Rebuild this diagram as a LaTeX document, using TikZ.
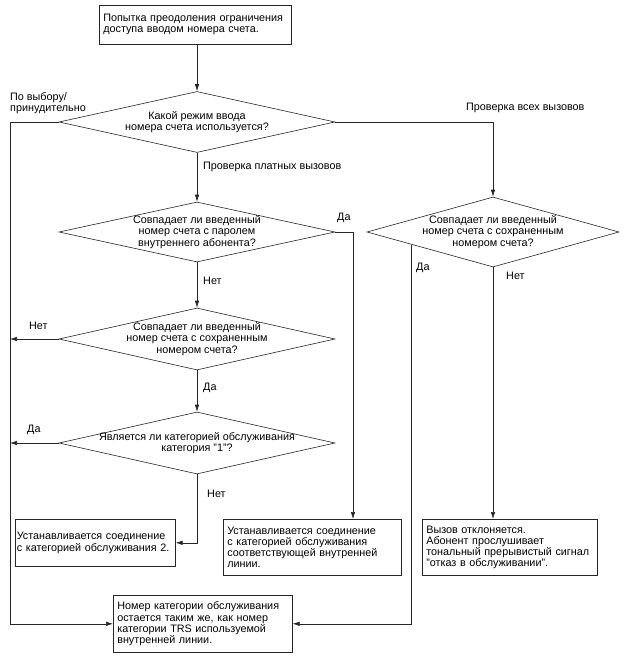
\documentclass[tikz,border=0pt]{standalone}
\usepackage{fontspec}
\setmainfont{Liberation Sans}
\usetikzlibrary{shapes.geometric,arrows.meta,calc}
\begin{document}
\begin{tikzpicture}[x=1pt,y=-1pt,
  font=\fontsize{10.8}{11.2}\selectfont,
  line/.style={draw=black!85,line width=0.6pt},
  flow/.style={line,-{Latex[length=7pt,width=4.5pt]}},
  box/.style={draw=black!85,line width=0.6pt,anchor=north west,align=left,
    inner xsep=4pt,inner ysep=0pt},
  choice/.style={draw=black!85,line width=0.6pt,diamond,aspect=4.2,
    inner xsep=-14pt,inner ysep=0pt,align=center},
  lbl/.style={inner sep=0pt,align=left}]
\useasboundingbox (0,0) rectangle (625,663);

\node[box,text width=184pt,minimum height=39pt] (start) at (99,5)
  {Попытка преодоления ограничения\\доступа вводом номера счета.};

\node[choice,minimum width=276pt,minimum height=61pt] (mode) at (197,122)
  {Какой режим ввода\\номера счета используется?};
\node[choice,minimum width=276pt,minimum height=60pt] (pwd) at (197,232)
  {Совпадает ли введенный\\номер счета с паролем\\внутреннего абонента?};
\node[choice,minimum width=276pt,minimum height=62pt] (match) at (197,339)
  {Совпадает ли введенный\\номер счета с сохраненным\\номером счета?};
\node[choice,minimum width=276pt,minimum height=62pt] (cat) at (197,443)
  {Является ли категорией обслуживания\\категория "1"?};
\node[choice,aspect=3.6,minimum width=252pt,minimum height=70pt] (all) at (493,232)
  {Совпадает ли введенный\\номер счета с сохраненным\\номером счета?};

\node[box,inner xsep=1.5pt,text width=157pt,minimum height=47pt] (svc) at (15,519)
  {Устанавливается соединение\\с категорией обслуживания 2.};
\node[box,text width=170pt,minimum height=56pt] (ext) at (223,519)
  {Устанавливается соединение\\с категорией обслуживания\\соответствующей внутренней\\линии.};
\node[box,text width=167pt,minimum height=56pt] (reject) at (422,519)
  {Вызов отклоняется.\\Абонент прослушивает\\тональный прерывистый сигнал\\"отказ в обслуживании".};
\node[box,text width=171pt,minimum height=57pt] (final) at (113,595)
  {Номер категории обслуживания\\остается таким же, как номер\\категории TRS используемой\\внутренней линии.};

\coordinate (leftx) at (10,0);
\coordinate (yesx) at (353,0);
\coordinate (allyes) at ($(all.west)!0.357!(all.south)$);

\draw[flow] (start.south -| mode.north) -- (mode.north);
\draw[flow] (mode.west) -- (mode.west -| leftx) |- (final.west);
\draw[flow] (mode.south) -- (pwd.north);
\draw[flow] (mode.east) -| (all.north);
\draw[flow] (pwd.east) -| (ext.north -| yesx);
\draw[flow] (pwd.south) -- (match.north);
\draw[flow] (match.west) -- (match.west -| leftx);
\draw[flow] (match.south) -- (cat.north);
\draw[flow] (cat.west) -- (cat.west -| leftx);
\draw[flow] (cat.south) |- (svc.east);
\draw[flow] (all.south) -- (reject.north -| all.south);
\draw[flow] (allyes) |- (final.east);

\node[lbl,anchor=west] (ltop) at (10,103) {По выбору/\\принудительно};
\node[lbl,anchor=west] (lpay) at (203,167) {Проверка платных вызовов};
\node[lbl,anchor=west] (lall) at (466,108) {Проверка всех вызовов};
\node[lbl,anchor=west] (lpwdyes) at (337,218) {Да};
\node[lbl,anchor=west] (lpwdno) at (203,281) {Нет};
\node[lbl,anchor=west] (lmatchno) at (29,326) {Нет};
\node[lbl,anchor=west] (lmatchyes) at (203,388) {Да};
\node[lbl,anchor=west] (lcatyes) at (27,430) {Да};
\node[lbl,anchor=west] (lcatno) at (207,494) {Нет};
\node[lbl,anchor=west] (lallyes) at (416,268) {Да};
\node[lbl,anchor=west] (lallno) at (506,276) {Нет};
\end{tikzpicture}
\end{document}
